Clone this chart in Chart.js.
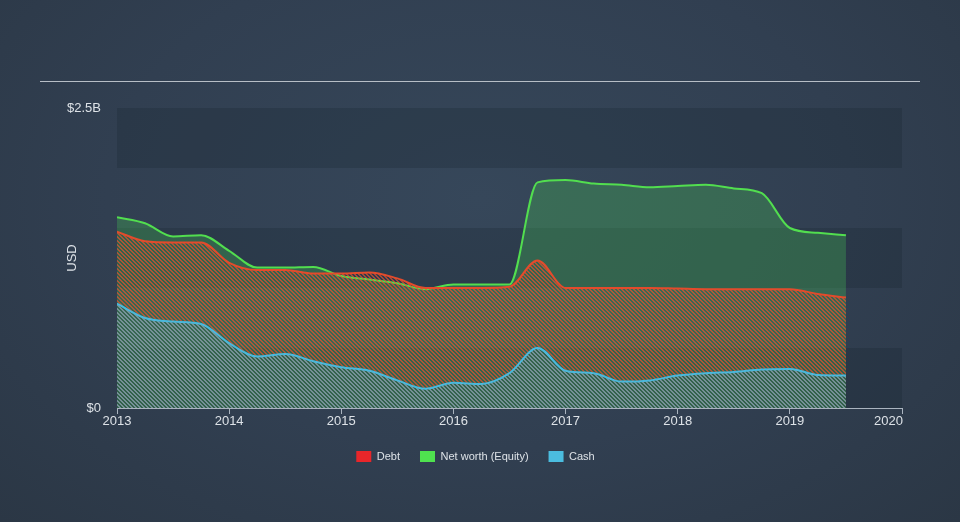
<!DOCTYPE html>
<html>
<head>
<meta charset="utf-8">
<script src="https://cdn.jsdelivr.net/npm/chart.js@4.4.0/dist/chart.umd.min.js"></script>
<style>
  html, body { margin: 0; padding: 0; width: 960px; height: 522px; overflow: hidden; }
  body { background: radial-gradient(ellipse at 50% 38%, #36475a 0%, #313f51 55%, #2b3745 100%); }
  #wrap { position: relative; width: 960px; height: 522px; }
  #rule { position: absolute; left: 40px; top: 81px; width: 880px; height: 1px; background: #b7bec6; }
  #c { position: absolute; left: 0; top: 0; display: block; }
</style>
</head>
<body>
<div id="wrap">
  <div id="rule"></div>
  <canvas id="c" width="960" height="522"></canvas>
</div>
<script>
// quarterly points, values in USD billions
const quarters = [2013, 2013.25, 2013.5, 2013.75, 2014, 2014.25, 2014.5, 2014.75,
  2015, 2015.25, 2015.5, 2015.75, 2016, 2016.25, 2016.5, 2016.75,
  2017, 2017.25, 2017.5, 2017.75, 2018, 2018.25, 2018.5, 2018.75,
  2019, 2019.25, 2019.5];

const debt = [1.47, 1.39, 1.38, 1.38, 1.21, 1.15, 1.15, 1.12,
  1.12, 1.13, 1.08, 1.00, 1.00, 1.00, 1.01, 1.23,
  1.00, 1.00, 1.00, 1.00, 0.995, 0.99, 0.99, 0.99,
  0.99, 0.95, 0.92];

const netWorth = [1.59, 1.54, 1.43, 1.44, 1.31, 1.17, 1.17, 1.175,
  1.10, 1.07, 1.04, 0.99, 1.03, 1.03, 1.03, 1.88,
  1.90, 1.87, 1.86, 1.84, 1.85, 1.86, 1.83, 1.79,
  1.50, 1.46, 1.44];

const cash = [0.87, 0.75, 0.72, 0.70, 0.54, 0.43, 0.45, 0.39,
  0.34, 0.31, 0.23, 0.16, 0.21, 0.20, 0.29, 0.50,
  0.31, 0.29, 0.22, 0.23, 0.27, 0.29, 0.30, 0.32,
  0.325, 0.275, 0.27];

const yearTicks = [2013, 2014, 2015, 2016, 2017, 2018, 2019, 2020];
const seriesNames = ["Debt", "Net worth (Equity)", "Cash"];
const legendColors = ["#e8262a", "#4fe24f", "#4bbde0"];

const textColor = "#dde2e7";
const axisColor = "#aab4bf";
const FONT = "'Liberation Sans', Arial, sans-serif";

function stripes(color) {
  const c = document.createElement("canvas");
  c.width = c.height = 4;
  const g = c.getContext("2d");
  g.fillStyle = color;
  for (let i = 0; i < 4; i++) {
    g.fillRect(i, i, 1, 1);
    g.fillRect((i + 1) % 4, i, 1, 1);
  }
  return g.createPattern(c, "repeat");
}

const toPoints = (vals) => vals.map((v, i) => ({ x: quarters[i], y: v }));

// darker horizontal bands behind the plot
const bandsPlugin = {
  id: "bands",
  beforeDatasetsDraw(chart) {
    const { ctx, chartArea, scales } = chart;
    ctx.save();
    ctx.fillStyle = "rgba(20, 30, 42, 0.22)";
    [[0, 0.5], [1, 1.5], [2, 2.5]].forEach(([a, b]) => {
      const y1 = scales.y.getPixelForValue(b);
      const y2 = scales.y.getPixelForValue(a);
      ctx.fillRect(chartArea.left, y1, chartArea.right - chartArea.left, y2 - y1);
    });
    ctx.restore();
  },
};

// year labels: last one kept inside the plot edge
const yearLabels = {
  id: "yearLabels",
  afterDraw(chart) {
    const { ctx, scales } = chart;
    const x = scales.x;
    ctx.save();
    ctx.font = "13px " + FONT;
    ctx.fillStyle = textColor;
    ctx.textBaseline = "middle";
    yearTicks.forEach((yr, i) => {
      const px = x.getPixelForValue(yr);
      if (i === yearTicks.length - 1) {
        ctx.textAlign = "right";
        ctx.fillText(String(yr), px + 1, x.top + 13);
      } else {
        ctx.textAlign = "center";
        ctx.fillText(String(yr), px, x.top + 13);
      }
    });
    ctx.restore();
  },
};

new Chart(document.getElementById("c"), {
  type: "line",
  data: {
    datasets: [
      {
        label: seriesNames[0],
        data: toPoints(debt),
        borderColor: "#e34b2c",
        backgroundColor: stripes("rgba(235, 80, 45, 0.65)"),
        fill: "origin",
        order: 1,
      },
      {
        label: seriesNames[1],
        data: toPoints(netWorth),
        borderColor: "#52de4f",
        backgroundColor: "rgba(70, 195, 85, 0.31)",
        fill: "origin",
        order: 2,
      },
      {
        label: seriesNames[2],
        data: toPoints(cash),
        borderColor: "#4ab8dc",
        backgroundColor: stripes("rgba(85, 185, 215, 0.6)"),
        fill: "origin",
        order: 0,
      },
    ],
  },
  options: {
    responsive: false,
    animation: false,
    devicePixelRatio: 1,
    layout: { padding: { top: 108, right: 58, bottom: 50, left: 49 } },
    elements: {
      point: { radius: 0 },
      line: { borderWidth: 2, cubicInterpolationMode: "monotone" },
    },
    plugins: {
      tooltip: { enabled: false },
      legend: {
        position: "bottom",
        labels: {
          boxWidth: 15,
          boxHeight: 11,
          padding: 20,
          color: textColor,
          font: { size: 11, family: FONT },
          generateLabels: (chart) =>
            seriesNames.map((name, i) => ({
              text: name,
              fillStyle: legendColors[i],
              strokeStyle: legendColors[i],
              lineWidth: 0,
              fontColor: textColor,
              datasetIndex: i,
            })),
        },
      },
    },
    scales: {
      x: {
        type: "linear",
        min: 2013,
        max: 2020,
        ticks: { stepSize: 1, display: false },
        grid: { display: true, drawOnChartArea: false, drawTicks: true, tickLength: 6, color: axisColor },
        border: { display: true, color: axisColor, width: 1 },
        afterFit(s) { s.height = 23; },
      },
      y: {
        min: 0,
        max: 2.5,
        ticks: {
          stepSize: 2.5,
          padding: 8,
          color: textColor,
          font: { size: 13, family: FONT },
          callback: (v) => (v === 0 ? "$0" : "$" + v + "B"),
        },
        grid: { display: false },
        border: { display: false },
        title: {
          display: true,
          text: "USD",
          color: textColor,
          font: { size: 13, family: FONT },
          padding: { top: 16, bottom: 0 },
        },
        afterFit(s) { s.width = 68; },
      },
    },
  },
  plugins: [bandsPlugin, yearLabels],
});
</script>
</body>
</html>
